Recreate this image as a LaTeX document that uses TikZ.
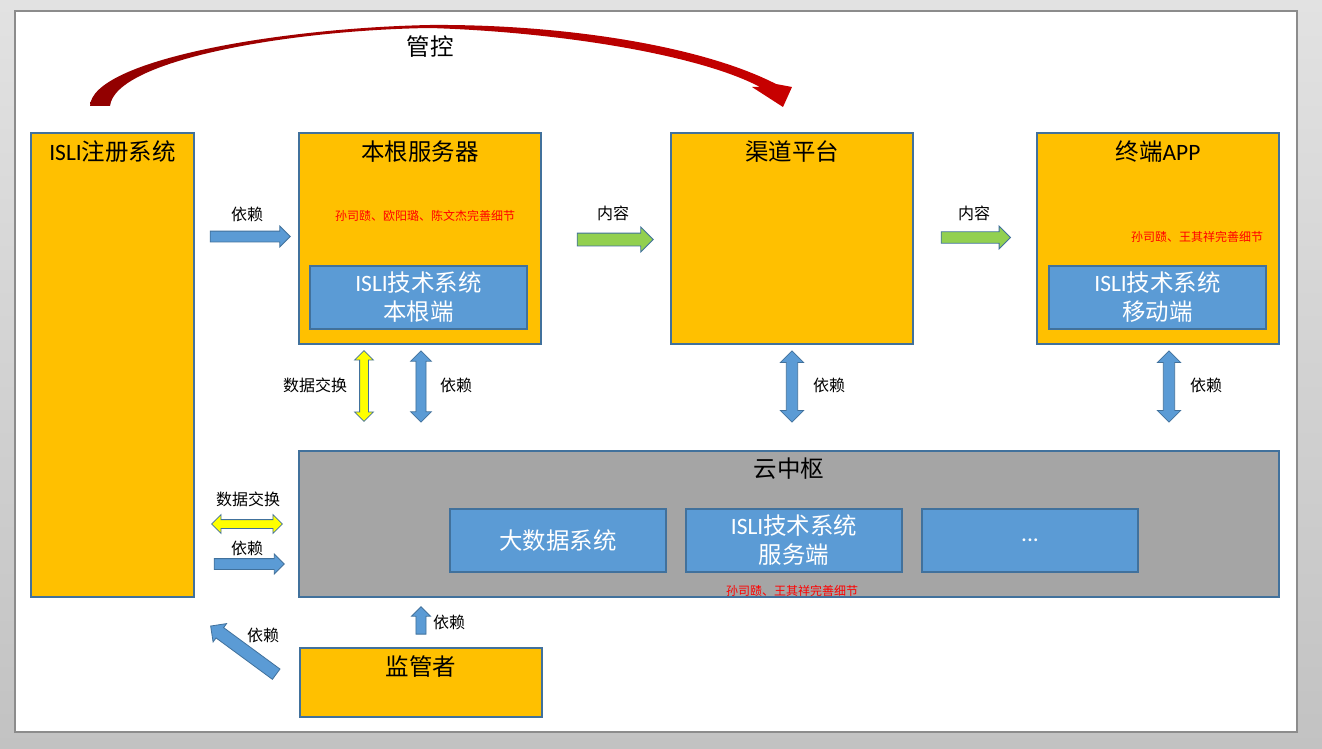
\documentclass[tikz,border=0pt]{standalone}
\usepackage{fontspec}
\setmainfont{Noto Sans CJK SC}
\newfontfamily\lat{Carlito}
\usetikzlibrary{shapes.arrows}
\definecolor{bgtop}{RGB}{226,226,226}
\definecolor{bgbot}{RGB}{194,194,194}
\definecolor{pageedge}{RGB}{140,140,140}
\definecolor{orangefill}{RGB}{255,192,0}
\definecolor{edgeblue}{RGB}{65,113,156}
\definecolor{bluefill}{RGB}{91,155,213}
\definecolor{grayfill}{RGB}{165,165,165}
\definecolor{greenfill}{RGB}{146,208,80}
\definecolor{yellowfill}{RGB}{255,255,0}
\definecolor{darkred}{RGB}{145,0,0}
\definecolor{brightred}{RGB}{200,0,0}
\definecolor{notered}{RGB}{255,0,0}
\tikzset{
  obox/.style={draw=edgeblue, fill=orangefill, line width=0.8pt, inner sep=0pt},
  bbox/.style={draw=edgeblue, fill=bluefill, line width=0.8pt, inner sep=0pt, text=white,
    font=\fontsize{17.6}{21.75}\selectfont, align=center},
  gbox/.style={draw=edgeblue, fill=grayfill, line width=0.8pt, inner sep=0pt},
  ttl/.style={inner sep=0pt, font=\fontsize{17.6}{21.75}\selectfont},
  lbl/.style={inner sep=0pt, font=\fontsize{12}{14}\selectfont},
  note/.style={inner sep=0pt, text=notered, font=\fontsize{9}{11}\selectfont},
  sarrow/.style={single arrow, draw=edgeblue, line width=0.6pt, text width=0pt, text height=0pt, text depth=0pt,
    single arrow head indent=0pt},
  darrow/.style={double arrow, draw=edgeblue, line width=0.6pt, text width=0pt, text height=0pt, text depth=0pt,
    double arrow head indent=0pt},
}
\begin{document}
\begin{tikzpicture}[x=0.75pt, y=-0.75pt]
\useasboundingbox (0,0) rectangle (1322,749);
\shade[top color=bgtop, bottom color=bgbot] (0,0) rectangle (1322,749);
\fill[white, draw=pageedge, line width=1.1pt] (15,11) rectangle (1297,732);

% curved control arrow
\shade[left color=darkred, right color=brightred]
  (90,106) .. controls (92,60) and (280,28) .. (430,25)
  .. controls (560,24) and (700,45) .. (776,84) -- (792,87) -- (783,107) -- (752,87) -- (760,87)
  .. controls (700,55) and (560,32) .. (430,28)
  .. controls (290,30) and (115,60) .. (110,106) -- cycle;
\node[ttl] (gk) at (430,47) {管控};

% main boxes
\node[obox, minimum width=122.25pt, minimum height=348pt] (reg) at (112.5,365) {};
\node[ttl] (regt) at (112.5,152) {{\lat ISLI}注册系统};

\node[obox, minimum width=181.5pt, minimum height=158.25pt] (ben) at (420,238.5) {};
\node[ttl] (bent) at (420,152) {本根服务器};
\node[note] (bennote) at (425,216) {孙司赜、欧阳璐、陈文杰完善细节};
\node[bbox, minimum width=162.75pt, minimum height=47.25pt] (benin) at (418.5,297.5) {{\lat ISLI}技术系统\\本根端};

\node[obox, minimum width=181.5pt, minimum height=158.25pt] (qd) at (792,238.5) {};
\node[ttl] (qdt) at (792,152) {渠道平台};

\node[obox, minimum width=181.5pt, minimum height=158.25pt] (zd) at (1158,238.5) {};
\node[ttl] (zdt) at (1158,152) {终端{\lat APP}};
\node[note] (zdnote) at (1197,237) {孙司赜、王其祥完善细节};
\node[bbox, minimum width=162.75pt, minimum height=47.25pt] (zdin) at (1157.5,297.5) {{\lat ISLI}技术系统\\移动端};

\node[gbox, minimum width=735pt, minimum height=109.5pt] (yun) at (789,524) {};
\node[ttl] (yunt) at (789,469) {云中枢};
\node[bbox, minimum width=162pt, minimum height=47.25pt] (dsj) at (558,540.5) {大数据系统};
\node[bbox, minimum width=162pt, minimum height=47.25pt] (fwd) at (794,540.5) {{\lat ISLI}技术系统\\服务端};
\node[bbox, minimum width=162pt, minimum height=47.25pt] (etc) at (1030,540.5) {{\lat ...}};
\node[note] (yunnote) at (792,591) {孙司赜、王其祥完善细节};

\node[obox, minimum width=181.5pt, minimum height=51.75pt] (jg) at (421,682.5) {};
\node[ttl] (jgt) at (421,667) {监管者};

% block arrows
\node[sarrow, fill=bluefill, minimum height=60pt, minimum width=15pt, inner sep=3.75pt, single arrow head extend=3.75pt] (a1) at (247.5,236.5) {};
\node[lbl] (a1l) at (247,214) {依赖};

\node[sarrow, fill=greenfill, minimum height=57pt, minimum width=18pt, inner sep=4.5pt, single arrow head extend=4.5pt] (a2) at (612,239.5) {};
\node[lbl] (a2l) at (613,213) {内容};

\node[sarrow, fill=greenfill, minimum height=52pt, minimum width=16.5pt, inner sep=4pt, single arrow head extend=4.25pt] (a3) at (973,237.5) {};
\node[lbl] (a3l) at (974,213) {内容};

\node[darrow, fill=yellowfill, rotate=90, minimum height=53pt, minimum width=13.5pt, inner sep=3pt, double arrow head extend=3.75pt] (d1) at (364,386) {};
\node[lbl] (d1l) at (315,385) {数据交换};

\node[darrow, fill=bluefill, rotate=90, minimum height=53.5pt, minimum width=15pt, inner sep=3.5pt, double arrow head extend=4pt] (d2) at (421,386.5) {};
\node[lbl] (d2l) at (456,385) {依赖};

\node[darrow, fill=bluefill, rotate=90, minimum height=53.5pt, minimum width=17pt, inner sep=4pt, double arrow head extend=4.5pt] (d3) at (792,386.5) {};
\node[lbl] (d3l) at (829,385) {依赖};

\node[darrow, fill=bluefill, rotate=90, minimum height=53.5pt, minimum width=17pt, inner sep=4pt, double arrow head extend=4.5pt] (d4) at (1169,386.5) {};
\node[lbl] (d4l) at (1206,385) {依赖};

\node[darrow, fill=yellowfill, minimum height=53pt, minimum width=13.5pt, inner sep=3pt, double arrow head extend=3.75pt] (d5) at (247,524) {};
\node[lbl] (d5l) at (248,499) {数据交换};

\node[sarrow, fill=bluefill, minimum height=52.5pt, minimum width=14.25pt, inner sep=3.75pt, single arrow head extend=3.4pt] (a4) at (246.5,564) {};
\node[lbl] (a4l) at (247,548) {依赖};

\node[sarrow, fill=bluefill, rotate=90, minimum height=20.5pt, minimum width=13.5pt, inner sep=3.5pt, single arrow head extend=3.25pt] (a5) at (421,623) {};
\node[lbl] (a5l) at (449,622) {依赖};

\node[sarrow, fill=bluefill, rotate=143.7, minimum height=61pt, minimum width=16.5pt, inner sep=4.5pt, single arrow head extend=3.75pt] (a6) at (246,652) {};
\node[lbl] (a6l) at (263,635) {依赖};
\end{tikzpicture}
\end{document}
